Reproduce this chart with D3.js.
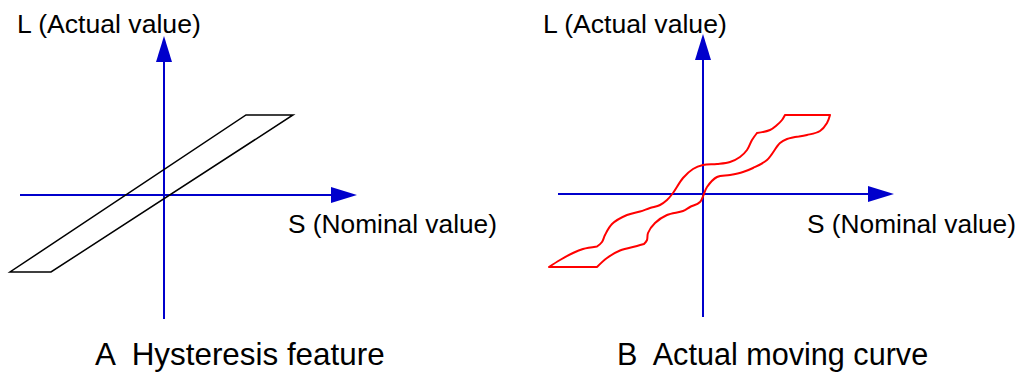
<!DOCTYPE html>
<html>
<head>
<meta charset="utf-8">
<script src="https://cdn.jsdelivr.net/npm/d3@7"></script>
<style>
  html, body { margin: 0; padding: 0; background: #fff; }
  svg { display: block; }
  text { font-family: "Liberation Sans", Arial, sans-serif; fill: #000; white-space: pre; }
</style>
</head>
<body>
<svg id="chart" width="1017" height="373"></svg>
<script>
// Panel titles and axis labels
const panelCaptions = ["A  Hysteresis feature", "B  Actual moving curve"];
const yAxisLabel = "L (Actual value)";
const xAxisLabel = "S (Nominal value)";

// Axis extents in data units (S horizontally, L vertically); the arrow tip is at the max end
const axisS = [-14.4, 19.3];
const axisL = [-12.4, 15.9];
const axisS_B = [-14.5, 19.1];
const axisL_B = [-12.3, 16.0];

// Panel A: ideal hysteresis loop (parallelogram corners, S/L pairs)
const idealLoop = [[-15.4, -7.7], [-11.3, -7.7], [12.9, 8.0], [8.2, 8.0]];

// Panel B: measured motion, split into smooth pieces joined at corners
const bottomEdge = [[-15.4, -7.3], [-10.6, -7.3]];
const topEdge = [[8.2, 7.9], [12.7, 7.9]];
// rising branch (upper side of the loop)
const riseArc1 = [[-15.4, -7.3], [-14.3, -6.6], [-13.0, -5.9], [-12.0, -5.5], [-10.6, -5.25]];
const riseStep = [[-10.6, -5.25], [-10.1, -4.8], [-9.8, -4.1], [-9.1, -3.0], [-7.6, -2.1], [-6.3, -1.75],
                  [-5.3, -1.4], [-4.3, -1.1], [-3.6, -0.6], [-3.0, 0.1], [-2.0, 1.6], [-1.0, 2.5],
                  [0.0, 2.9], [1.4, 3.0], [2.7, 3.2], [3.7, 3.7], [4.4, 4.4], [4.9, 5.4], [5.4, 6.1]];
const riseArc2 = [[5.4, 6.1], [6.7, 6.4], [7.4, 6.9], [7.9, 7.4], [8.2, 7.9]];
// returning branch (lower side of the loop)
const fallArc1 = [[-10.6, -7.3], [-9.6, -6.4], [-8.3, -5.65], [-6.6, -5.2], [-5.9, -5.0]];
const fallStep = [[-5.9, -5.0], [-5.6, -4.6], [-5.5, -3.9], [-4.8, -2.9], [-3.6, -2.1], [-2.0, -1.7],
                  [-1.3, -1.3], [-0.3, -0.8], [0.4, 0.7], [1.4, 1.7], [2.7, 1.9], [4.0, 2.2],
                  [5.0, 2.6], [6.4, 3.4], [7.7, 5.1], [8.4, 5.5], [9.6, 5.75]];
const fallArc2 = [[9.6, 5.75], [10.4, 5.9], [11.7, 6.3], [12.4, 7.1], [12.7, 7.9]];

const svg = d3.select("#chart");
const AXIS_BLUE = "#0000cc";

// One panel: origin in pixels, 10 px per data unit
function makePanel(ox, oy) {
  const x = d3.scaleLinear().domain([0, 1]).range([ox, ox + 10]);
  const y = d3.scaleLinear().domain([0, 1]).range([oy, oy - 10]);
  return { x, y };
}

function drawAxes(p, sExt, lExt) {
  const g = svg.append("g");
  const head = 26, half = 8;
  const x0 = p.x(sExt[0]), x1 = p.x(sExt[1]);
  const y0 = p.y(lExt[0]), y1 = p.y(lExt[1]);
  const ox = p.x(0), oy = p.y(0);
  g.append("line").attr("x1", x0).attr("y1", oy).attr("x2", x1 - head + 1).attr("y2", oy)
    .attr("stroke", AXIS_BLUE).attr("stroke-width", 2);
  g.append("path").attr("d", `M${x1},${oy}L${x1 - head},${oy - half}L${x1 - head},${oy + half}Z`)
    .attr("fill", AXIS_BLUE);
  g.append("line").attr("x1", ox).attr("y1", y0).attr("x2", ox).attr("y2", y1 + head - 1)
    .attr("stroke", AXIS_BLUE).attr("stroke-width", 2);
  g.append("path").attr("d", `M${ox},${y1}L${ox - half},${y1 + head}L${ox + half},${y1 + head}Z`)
    .attr("fill", AXIS_BLUE);
}

// Panel A
const pA = makePanel(164, 195);
drawAxes(pA, axisS, axisL);
svg.append("path")
  .datum(idealLoop)
  .attr("d", d3.line().x(d => pA.x(d[0])).y(d => pA.y(d[1])).curve(d3.curveLinearClosed))
  .attr("fill", "none").attr("stroke", "#000").attr("stroke-width", 1.5)
  .attr("stroke-linejoin", "miter");

// Panel B
const pB = makePanel(703, 194);
drawAxes(pB, axisS_B, axisL_B);
const straight = d3.line().x(d => pB.x(d[0])).y(d => pB.y(d[1]));
const smooth = d3.line().x(d => pB.x(d[0])).y(d => pB.y(d[1])).curve(d3.curveCatmullRom.alpha(0.5));
const pieces = [
  straight(bottomEdge), straight(topEdge),
  smooth(riseArc1), smooth(riseStep), smooth(riseArc2),
  smooth(fallArc1), smooth(fallStep), smooth(fallArc2)
];
svg.append("path")
  .attr("d", pieces.join(""))
  .attr("fill", "none").attr("stroke", "#ff0000").attr("stroke-width", 2)
  .attr("stroke-linejoin", "round").attr("stroke-linecap", "round");

// Labels
svg.append("text").attr("x", 17).attr("y", 33).attr("font-size", 26.6).text(yAxisLabel);
svg.append("text").attr("x", 543).attr("y", 33).attr("font-size", 26.6).text(yAxisLabel);
svg.append("text").attr("x", 288).attr("y", 233).attr("font-size", 26.3).text(xAxisLabel);
svg.append("text").attr("x", 807).attr("y", 233).attr("font-size", 26.3).text(xAxisLabel);
svg.append("text").attr("x", 95).attr("y", 365).attr("font-size", 31.4).text(panelCaptions[0]);
svg.append("text").attr("x", 617).attr("y", 365).attr("font-size", 30.6).text(panelCaptions[1]);
</script>
</body>
</html>
